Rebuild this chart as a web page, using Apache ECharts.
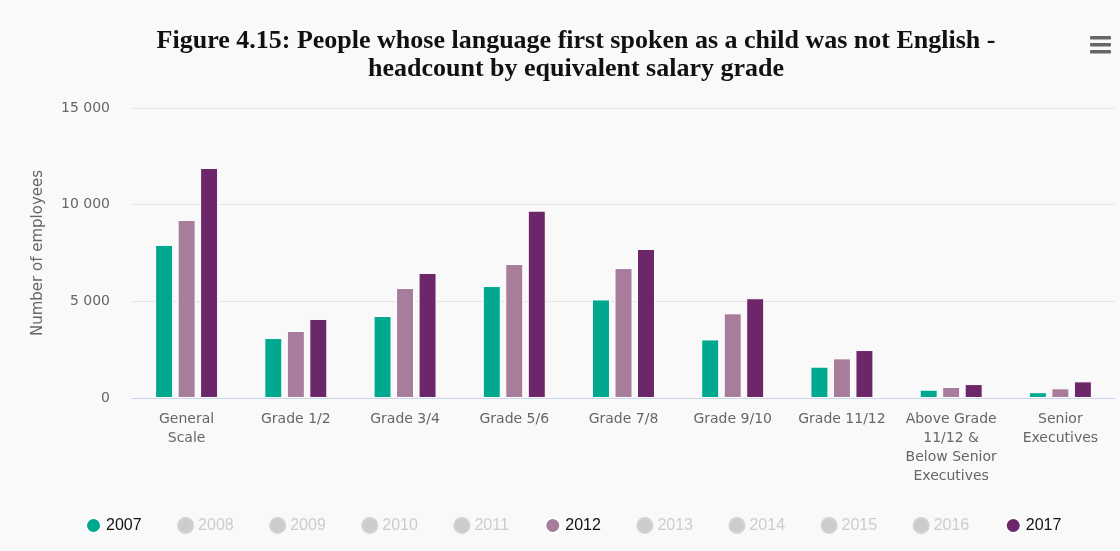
<!DOCTYPE html>
<html><head><meta charset="utf-8">
<script src="https://cdn.jsdelivr.net/npm/echarts@6/dist/echarts.min.js"></script>
<style>html,body{margin:0;padding:0;background:#f9f9f9}#c{width:1120px;height:551px}</style>
</head><body><div id="c"></div>
<script>
const categories = ["General\nScale","Grade 1/2","Grade 3/4","Grade 5/6","Grade 7/8","Grade 9/10","Grade 11/12","Above Grade\n11/12 &\nBelow Senior\nExecutives","Senior\nExecutives"];
const years = ["2007","2008","2009","2010","2011","2012","2013","2014","2015","2016","2017"];
const values2007 = [7920, 3100, 4240, 5790, 5100, 3030, 1620, 430, 300];
const values2012 = [9210, 3470, 5690, 6930, 6720, 4380, 2050, 570, 500];
const values2017 = [11900, 4090, 6470, 9690, 7710, 5160, 2480, 720, 860];
const yTicks = [0, 5000, 10000, 15000];

const shown = {"2007": values2007, "2012": values2012, "2017": values2017};
const palette = ["#00a88f","#cccccc","#cccccc","#cccccc","#cccccc","#a77d9b","#cccccc","#cccccc","#cccccc","#cccccc","#6b2769"];
const selected = {};
const series = years.map((y, i) => {
  selected[y] = !!shown[y];
  return {
    name: y, type: "bar",
    data: shown[y] ? shown[y] : [],
    itemStyle: {color: palette[i], borderColor: "#ffffff", borderWidth: 1},
    barWidth: 18, barGap: "25%"
  };
});

const chart = echarts.init(document.getElementById("c"), null, {renderer: "canvas"});
chart.setOption({
  backgroundColor: "#f9f9f9",
  animation: false,
  color: palette,
  title: {
    text: "Figure 4.15: People whose language first spoken as a child was not English -\nheadcount by equivalent salary grade",
    left: 571, top: 22, textAlign: "center",
    textStyle: {fontFamily: "Liberation Serif", fontWeight: "bold", fontSize: 26, color: "#111111", lineHeight: 28}
  },
  legend: {
    bottom: 12, left: 80, icon: "circle", itemWidth: 15, itemHeight: 15, itemGap: 35.5,
    selected: selected, inactiveColor: "#cccccc",
    textStyle: {fontFamily: "Liberation Sans", fontSize: 16, color: "#111111"}
  },
  grid: {left: 132, right: 5, top: 108, bottom: 153},
  xAxis: {
    type: "category", data: categories,
    axisLine: {lineStyle: {color: "#ccd6eb"}},
    axisTick: {length: 11, lineStyle: {color: "#ccd6eb"}},
    axisLabel: {color: "#666666", fontFamily: "DejaVu Sans", fontSize: 14, lineHeight: 19, margin: 12, interval: 0}
  },
  yAxis: {
    type: "value", min: 0, max: 15000, interval: 5000,
    name: "Number of employees", nameLocation: "middle", nameGap: 86, nameRotate: 90,
    nameTextStyle: {color: "#666666", fontFamily: "DejaVu Sans", fontSize: 15},
    axisLabel: {color: "#666666", fontFamily: "DejaVu Sans", fontSize: 14, margin: 22,
      formatter: v => yTicks.includes(v) ? String(v).replace(/\B(?=(\d{3})+(?!\d))/g, " ") : ""},
    splitLine: {lineStyle: {color: "#e6e6e6"}},
    axisLine: {show: false}, axisTick: {show: false}
  },
  graphic: [
    {type: "rect", shape: {x: 1082, y: 28, width: 36, height: 34, r: 3}, style: {fill: "#f9f9f9"}},
    {type: "rect", shape: {x: 1090, y: 36, width: 21, height: 3.5, r: 1}, style: {fill: "#666666"}},
    {type: "rect", shape: {x: 1090, y: 43, width: 21, height: 3.5, r: 1}, style: {fill: "#666666"}},
    {type: "rect", shape: {x: 1090, y: 50, width: 21, height: 3.5, r: 1}, style: {fill: "#666666"}}
  ],
  series: series
});
</script></body></html>
